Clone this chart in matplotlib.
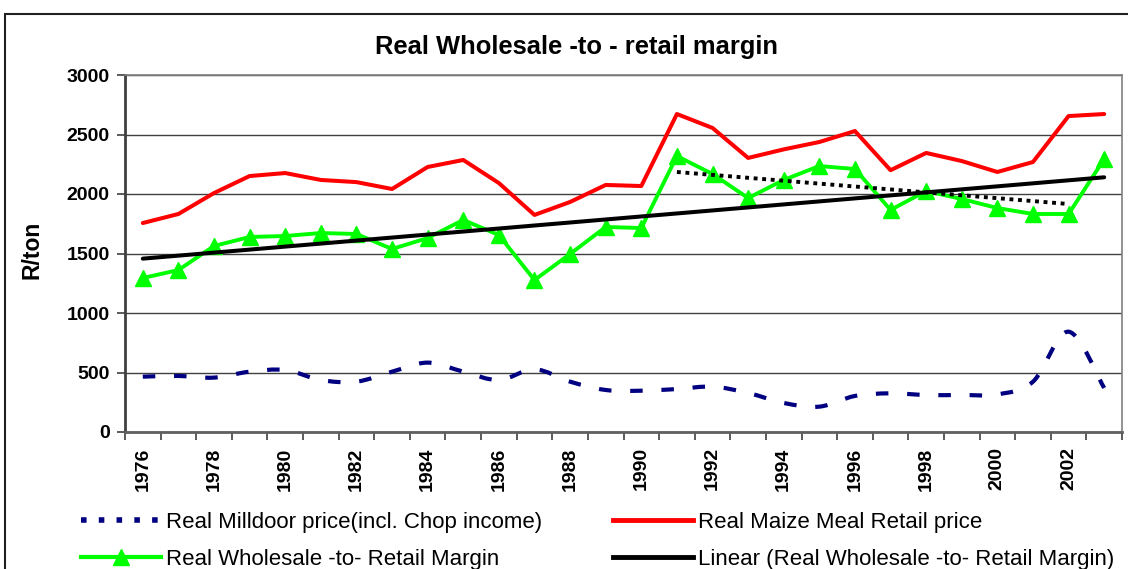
import numpy as np
import matplotlib
matplotlib.use("Agg")
import matplotlib.pyplot as plt
from matplotlib.path import Path
from matplotlib.patches import PathPatch, Rectangle
from matplotlib.lines import Line2D

plt.rcParams['font.family'] = ['Liberation Sans', 'DejaVu Sans']

years = list(range(1976, 2004))
milldoor = [465, 471, 457, 507, 521, 437, 423, 507, 583, 507, 437, 527, 423, 353,
            347, 361, 381, 328, 244, 213, 303, 325, 311, 311, 316, 423, 843, 370]
retail = [1756, 1832, 2008, 2151, 2176, 2118, 2100, 2042, 2227, 2286, 2092, 1824, 1933, 2076,
          2067, 2672, 2555, 2303, 2375, 2437, 2529, 2200, 2345, 2277, 2185, 2269, 2655, 2672]
margin = [1294, 1361, 1563, 1639, 1647, 1672, 1664, 1538, 1630, 1782, 1655, 1277, 1496, 1723,
          1714, 2319, 2168, 1966, 2118, 2235, 2210, 1866, 2025, 1958, 1882, 1832, 1832, 2294]
dotted_years = [1991, 2002]
dotted_values = [2185, 1916]
yticks = [0, 500, 1000, 1500, 2000, 2500, 3000]

title = "Real Wholesale -to - retail margin"
lbl_mill = "Real Milldoor price(incl. Chop income)"
lbl_retail = "Real Maize Meal Retail price"
lbl_margin = "Real Wholesale -to- Retail Margin"
lbl_lin = "Linear (Real Wholesale -to- Retail Margin)"

fig = plt.figure(figsize=(11.28, 5.69), dpi=100)
ax = fig.add_axes([125/1128, 1-432/569, 997/1128, 357/569])

x = np.arange(len(years))

# smoothed milldoor (Catmull-Rom -> Bezier)
pts = np.column_stack([x, milldoor]).astype(float)
verts = [pts[0]]
codes = [Path.MOVETO]
n = len(pts)
for i in range(n - 1):
    p0 = pts[i-1] if i > 0 else pts[i]
    p1 = pts[i]
    p2 = pts[i+1]
    p3 = pts[i+2] if i + 2 < n else pts[i+1]
    c1 = p1 + (p2 - p0) / 6.0
    c2 = p2 - (p3 - p1) / 6.0
    verts += [c1, c2, p2]
    codes += [Path.CURVE4] * 3
patch = PathPatch(Path(verts, codes), fill=False, edgecolor='#000080', lw=3.0,
                  linestyle=(0, (3.0, 4.5)), capstyle='butt', zorder=3)
ax.add_patch(patch)

ax.plot(x, retail, color='#ff0000', lw=2.9, zorder=4, solid_capstyle='round',
        solid_joinstyle='round')
ax.plot(x, margin, color='#00ff00', lw=2.8, marker='^', markersize=11,
        markeredgecolor='#00ff00', zorder=5)

# linear trend of margin
coef = np.polyfit(x, margin, 1)
ax.plot(x, np.polyval(coef, x), color='black', lw=2.9, zorder=6, solid_capstyle='round')

# dotted trend segment
dx = [years.index(y) for y in dotted_years]
ax.plot(dx, dotted_values, color='black', lw=2.8, linestyle=(0, (1, 1.2)),
        dash_capstyle='butt', zorder=6)

ax.set_xlim(-0.5, len(years) - 0.5)
ax.set_ylim(0, 3000)
ax.set_yticks(yticks)
ax.set_yticklabels([str(v) for v in yticks], fontsize=14, fontweight='bold')
ax.yaxis.grid(True, color='#404040', lw=1.0)
ax.set_axisbelow(True)

ax.set_xticks(np.arange(len(years) + 1) - 0.5)
ax.set_xticklabels([])
ax.set_xticks(x[::2], minor=True)
ax.set_xticklabels([str(y) for y in years[::2]], minor=True, rotation=90,
                   fontsize=14, fontweight='bold')
ax.tick_params(axis='x', which='minor', length=0, pad=11)
ax.tick_params(axis='x', which='major', length=6, width=1.2, color='#404040')
ax.tick_params(axis='y', length=6, width=1.2, color='#404040', pad=5)

for s in ['top', 'right']:
    ax.spines[s].set_color('#808080')
    ax.spines[s].set_linewidth(1.2)
ax.spines['left'].set_color('#404040')
ax.spines['left'].set_linewidth(2)
ax.spines['bottom'].set_color('#606060')
ax.spines['bottom'].set_linewidth(2)

fig.text(32/1128, 1-250/569, "R/ton", rotation=90, ha='center', va='center',
         fontsize=16.5, fontweight='bold')

fig.text(577/1128, 1-47/569, title, ha='center', va='center', fontsize=18.4, fontweight='bold')

handles = [
    Line2D([], [], color='#000080', lw=4, linestyle=(0, (1.0, 2.2)), dash_capstyle='butt'),
    Line2D([], [], color='#00ff00', lw=3, marker='^', markersize=11),
    Line2D([], [], color='#ff0000', lw=3.5),
    Line2D([], [], color='black', lw=3.5),
]
labels = [lbl_mill, lbl_margin, lbl_retail, lbl_lin]
leg = fig.legend(handles, labels, ncol=2, loc='upper left',
                 bbox_to_anchor=(72/1128, 1-503/569), frameon=False,
                 fontsize=16, handlelength=3.6, handletextpad=0.22,
                 columnspacing=3.2, labelspacing=0.72, borderaxespad=0)

fig.add_artist(Rectangle((5/1128, -0.1), 1.2, 1-14/569+0.1, transform=fig.transFigure,
                         fill=False, edgecolor='#202020', lw=1.5))

fig.savefig("out.png", dpi=100)
